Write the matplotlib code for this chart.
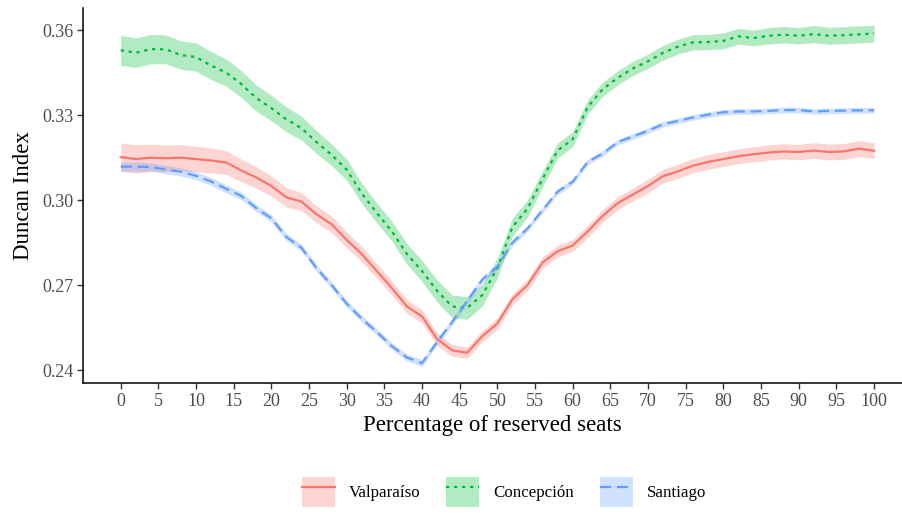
import numpy as np
import matplotlib
matplotlib.use("Agg")
import matplotlib.pyplot as plt
from matplotlib.patches import Patch
from matplotlib.lines import Line2D

plt.rcParams['font.family'] = ['Liberation Serif', 'DejaVu Serif']

pct = list(range(0, 101, 2))

valparaiso = [0.3152, 0.3145, 0.3150, 0.3148, 0.3150, 0.3145, 0.3140, 0.3133, 0.3105, 0.3080,
              0.3050, 0.3010, 0.2995, 0.2950, 0.2915, 0.2860, 0.2810, 0.2750, 0.2690, 0.2625,
              0.2590, 0.2510, 0.2470, 0.2462, 0.2520, 0.2565, 0.2650, 0.2700, 0.2780, 0.2820,
              0.2840, 0.2890, 0.2945, 0.2990, 0.3020, 0.3050, 0.3085, 0.3102, 0.3122, 0.3135,
              0.3145, 0.3155, 0.3162, 0.3168, 0.3172, 0.3170, 0.3175, 0.3170, 0.3172, 0.3182,
              0.3174]
valparaiso_hw = [0.0050, 0.0050, 0.0048, 0.0047, 0.0046, 0.0045,
                 0.0044, 0.0042, 0.0040, 0.0038, 0.0036, 0.0034, 0.0032,
                 0.0030, 0.0029, 0.0028, 0.0027, 0.0026, 0.0025, 0.0024,
                 0.0023, 0.0022, 0.0021, 0.0020, 0.0020, 0.0020, 0.0020,
                 0.0020, 0.0020, 0.0021, 0.0021, 0.0022, 0.0022, 0.0023,
                 0.0023, 0.0024, 0.0024, 0.0025, 0.0025, 0.0026, 0.0026,
                 0.0026, 0.0027, 0.0027, 0.0027, 0.0027, 0.0028, 0.0028, 0.0028, 0.0028, 0.0028]

concepcion = [0.3529, 0.3520, 0.3533, 0.3532, 0.3512, 0.3505, 0.3475, 0.3450, 0.3410, 0.3360,
              0.3325, 0.3285, 0.3254, 0.3205, 0.3160, 0.3108, 0.3024, 0.2955, 0.2890, 0.2810,
              0.2750, 0.2680, 0.2625, 0.2620, 0.2665, 0.2760, 0.2905, 0.2970, 0.3075, 0.3175,
              0.3215, 0.3329, 0.3392, 0.3432, 0.3465, 0.3490, 0.3520, 0.3542, 0.3557, 0.3558,
              0.3562, 0.3578, 0.3572, 0.3580, 0.3584, 0.3580, 0.3586, 0.3580, 0.3582, 0.3585,
              0.3588]
concepcion_hw = [0.0053, 0.0052, 0.0052, 0.0051, 0.0050, 0.0050,
                 0.0049, 0.0048, 0.0047, 0.0046, 0.0045, 0.0044, 0.0042,
                 0.0040, 0.0038, 0.0037, 0.0036, 0.0035, 0.0035, 0.0036,
                 0.0037, 0.0039, 0.0040, 0.0040, 0.0038, 0.0035, 0.0032,
                 0.0030, 0.0028, 0.0027, 0.0026, 0.0025, 0.0025, 0.0025,
                 0.0025, 0.0025, 0.0026, 0.0026, 0.0027, 0.0027, 0.0028,
                 0.0028, 0.0028, 0.0029, 0.0029, 0.0029, 0.0030, 0.0030, 0.0030, 0.0030, 0.0030]

santiago = [0.3118, 0.3118, 0.3117, 0.3108, 0.3100, 0.3086, 0.3066, 0.3040, 0.3015, 0.2972,
            0.2936, 0.2870, 0.2832, 0.2760, 0.2700, 0.2635, 0.2582, 0.2535, 0.2485, 0.2445,
            0.2425, 0.2500, 0.2570, 0.2645, 0.2720, 0.2765, 0.2850, 0.2900, 0.2965, 0.3030,
            0.3065, 0.3135, 0.3165, 0.3205, 0.3225, 0.3245, 0.3268, 0.3280, 0.3292, 0.3302,
            0.3310, 0.3313, 0.3313, 0.3315, 0.3318, 0.3318, 0.3313, 0.3315, 0.3316, 0.3317,
            0.3317]
santiago_hw = [0.0016, 0.0016, 0.0015, 0.0015, 0.0015, 0.0014,
               0.0014, 0.0014, 0.0013, 0.0013, 0.0013, 0.0013, 0.0012,
               0.0012, 0.0012, 0.0012, 0.0012, 0.0012, 0.0012, 0.0012,
               0.0012, 0.0012, 0.0011, 0.0011, 0.0011, 0.0011, 0.0011,
               0.0010, 0.0010, 0.0010, 0.0010, 0.0010, 0.0010, 0.0010,
               0.0010, 0.0010, 0.0010, 0.0010, 0.0010, 0.0010, 0.0010,
               0.0010, 0.0010, 0.0010, 0.0010, 0.0010, 0.0010, 0.0010, 0.0010, 0.0010, 0.0010]

names = ["Valparaíso", "Concepción", "Santiago"]
colors = ["#F8766D", "#00BA38", "#619CFF"]
styles = ["-", (0, (1.5, 2.1)), (0, (5.0, 2.6))]
series = [valparaiso, concepcion, santiago]
halfw = [valparaiso_hw, concepcion_hw, santiago_hw]

xticks = list(range(0, 101, 5))
yticks = [0.24, 0.27, 0.30, 0.33, 0.36]

W, H = 902, 515
fig = plt.figure(figsize=(W / 100, H / 100), dpi=100)
ax = fig.add_axes([83 / W, (H - 383) / H, (W - 83) / W, 375 / H])

x = np.array(pct)
handles = []
for name, c, ls, y, hw in zip(names, colors, styles, series, halfw):
    y = np.array(y)
    hw = np.array(hw)
    ax.fill_between(x, y - hw, y + hw, color=c, alpha=0.3, linewidth=0)
    ax.plot(x, y, color=c, linestyle=ls, linewidth=1.6)
    handles.append((Patch(facecolor=c, alpha=0.3, edgecolor='none'),
                    Line2D([], [], color=c, linestyle=ls, linewidth=1.6)))

ax.set_xlim(-5, (W - 121) / 7.53)
ax.set_ylim(0.2355, 0.3678)
ax.set_xticks(xticks)
ax.set_xticklabels([str(v) for v in xticks])
ax.set_yticks(yticks)
ax.set_yticklabels([f"{v:.2f}" for v in yticks])
for s in ["top", "right"]:
    ax.spines[s].set_visible(False)
for s in ["left", "bottom"]:
    ax.spines[s].set_linewidth(1.1)
    ax.spines[s].set_color("black")
ax.tick_params(axis="both", length=4, width=1.0, color="#333333", labelsize=13,
               labelcolor="#4D4D4D", pad=3)
ax.set_xlabel("Percentage of reserved seats", fontsize=16.5, labelpad=4)
ax.set_ylabel("Duncan Index", fontsize=16.5, labelpad=6)

fig.legend(handles=handles, labels=names, loc="center", bbox_to_anchor=(504 / W, (H - 492) / H),
           ncol=3, frameon=False, fontsize=12.2, handlelength=1.95, handleheight=2.3,
           handletextpad=0.8, columnspacing=1.55)

fig.savefig("out.png", dpi=100)
